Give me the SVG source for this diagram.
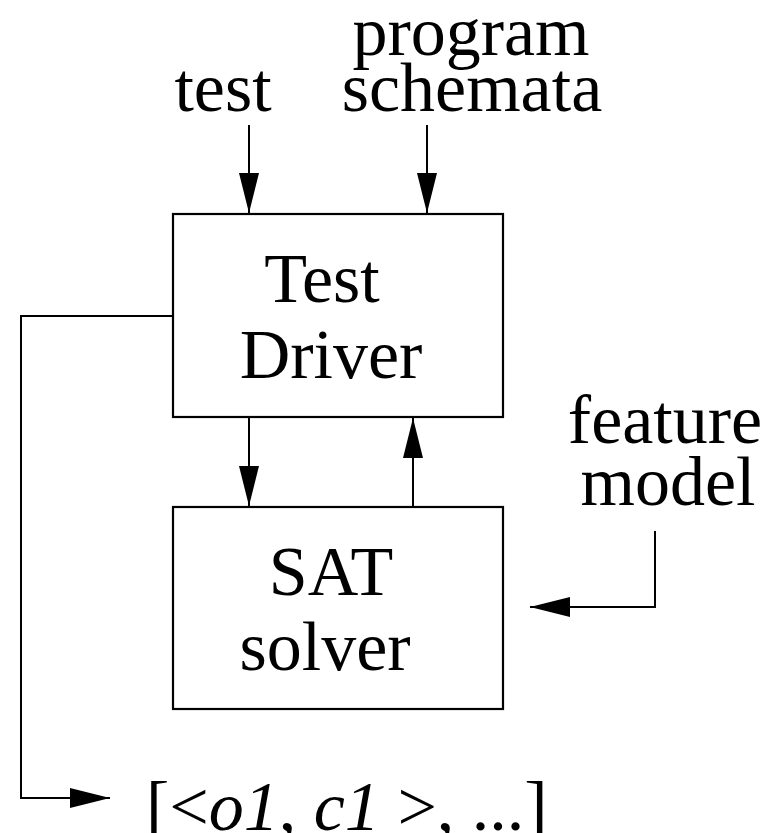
<svg xmlns="http://www.w3.org/2000/svg" width="778" height="833" viewBox="0 0 778 833">
<style>
text{font-family:"Liberation Serif","Times New Roman",serif;font-size:70px;fill:#000}
.c{text-anchor:middle}
.box{fill:#fff;stroke:#000;stroke-width:2.2}
.ln{fill:none;stroke:#000;stroke-width:2}
</style>
<defs>
<marker id="ah" markerUnits="userSpaceOnUse" markerWidth="40" markerHeight="20" refX="40" refY="10" orient="auto">
<path d="M0,0 L40,10 L0,20 z" fill="#000"/>
</marker>
</defs>
<rect width="778" height="833" fill="#fff"/>
<g id="label-test"><text class="c" x="223" y="111">test</text></g>
<g id="label-schemata"><text class="c" x="471" y="55">program</text><text class="c" x="472" y="111">schemata</text></g>
<g id="label-feature"><text class="c" x="665" y="443">feature</text><text class="c" x="668" y="505">model</text></g>
<g id="test-driver"><rect class="box" x="173" y="214" width="330" height="203"/><text class="c" x="322" y="302">Test</text><text class="c" x="331" y="378">Driver</text></g>
<g id="sat-solver"><rect class="box" x="173" y="507" width="330" height="202"/><text class="c" x="331" y="595">SAT</text><text class="c" x="325" y="670">solver</text></g>
<g id="output"><text x="146" y="830">[&lt;<tspan font-style="italic">o1</tspan>, <tspan font-style="italic">c1</tspan> &gt;, ...]</text></g>
<g id="connectors">
<path class="ln" d="M249,125 V213" marker-end="url(#ah)"/>
<path class="ln" d="M427,125 V213" marker-end="url(#ah)"/>
<path class="ln" d="M249,418 V506" marker-end="url(#ah)"/>
<path class="ln" d="M413,506 V418" marker-end="url(#ah)"/>
<path class="ln" d="M655,531 V607 H530" marker-end="url(#ah)"/>
<path class="ln" d="M172,316 H21 V798 H110" marker-end="url(#ah)"/>
</g>
</svg>
